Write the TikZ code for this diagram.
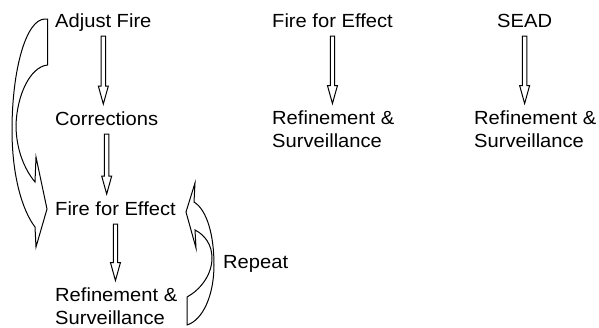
\documentclass[tikz,border=0pt]{standalone}
\usepackage{fontspec}
\newfontfamily\lblfont[FakeStretch=1.06]{Liberation Sans}
\usetikzlibrary{calc}

\tikzset{
  lbl/.style={anchor=base west, inner sep=0pt, align=left,
    font=\lblfont\fontsize{19}{22.5}\selectfont},
  % straight hollow block arrow from below one label to above the next
  blockarrow/.style={draw=black, line width=1pt, fill=white,
    to path={let \p1=(\tikztostart.base), \p2=(\tikztotarget.north) in
      (\x1-2.2pt,\y1-9pt) -- (\x1+2.2pt,\y1-9pt) -- (\x1+2.2pt,\y2+25pt)
      -- (\x1+5pt,\y2+25pt) -- (\x1,\y2+7pt) -- (\x1-5pt,\y2+25pt)
      -- (\x1-2.2pt,\y2+25pt) -- cycle}},
  curvearrow/.style={draw=black, line width=1pt, fill=white, line join=miter}
}

\begin{document}
\begin{tikzpicture}[x=1pt, y=-1pt]
  \useasboundingbox (0,0) rectangle (599,327);

  % adjust-fire sequence (two-line labels sit on their last baseline)
  \node[lbl] (af)   at (55,27)  {Adjust Fire};
  \node[lbl] (corr) at (55,125) {Corrections};
  \node[lbl] (ffa)  at (55,215) {Fire for Effect};
  \node[lbl] (rsa)  at (55,324) {Refinement \&\\Surveillance};
  \node[lbl] (rep)  at (223,268) {Repeat};

  % fire-for-effect sequence
  \node[lbl] (ffb)  at (272,27)  {Fire for Effect};
  \node[lbl] (rsb)  at (272,147) {Refinement \&\\Surveillance};

  % SEAD sequence
  \node[lbl] (sead) at (497,27)  {SEAD};
  \node[lbl] (rsc)  at (474,147) {Refinement \&\\Surveillance};

  % straight arrows
  \draw[blockarrow] (af) to (corr);
  \draw[blockarrow] (corr) to (ffa);
  \draw[blockarrow] (ffa) to (rsa);
  \draw[blockarrow] (ffb) to (rsb);
  \draw[blockarrow] (sead) to (rsc);

  % curved arrow: adjust fire skipping ahead to fire for effect
  \draw[curvearrow] (45,19) -- (47.5,19) -- (47.5,65)
    .. controls (30,67) and (17,95) .. (16,125)
    .. controls (16,150) and (25,170) .. (35,182)
    -- (36,157) -- (47,209) -- (36,247) -- (35,227)
    .. controls (22,210) and (12,175) .. (12,130)
    .. controls (12,70) and (26,19) .. (45,19) -- cycle;

  % curved arrow: repeat loop back to fire for effect
  \draw[curvearrow] (187,325) -- (187,297)
    .. controls (200,290) and (212,275) .. (212,258)
    .. controls (212,245) and (205,235) .. (195,230)
    -- (196,248) -- (186,212) -- (195,183) -- (194,202)
    .. controls (207,210) and (214,235) .. (214,265)
    .. controls (214,295) and (203,320) .. (187,325) -- cycle;
\end{tikzpicture}
\end{document}
